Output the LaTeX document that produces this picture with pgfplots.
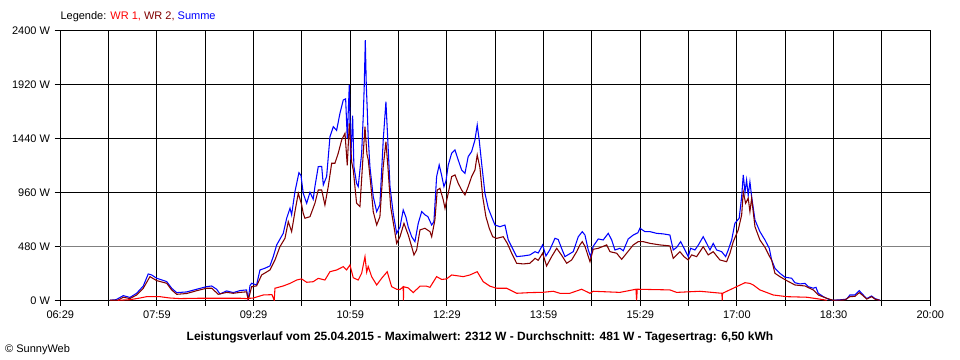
\documentclass[border=0pt]{standalone}
\usepackage{fontspec}
\setmainfont{Liberation Sans}
\usepackage{pgfplots}
\usepackage{pgfplotstable}
\pgfplotsset{compat=1.18}
\definecolor{wrA}{RGB}{255,0,0}
\definecolor{wrB}{RGB}{128,0,0}
\definecolor{sumC}{RGB}{0,0,255}
\definecolor{gridgray}{RGB}{128,128,128}

\pgfplotstableread{
t w
436.3 0
441.9 5
448.7 41
454.9 25
461.1 62
467.3 127
471.9 234
475.1 225
479.7 196
489.1 166
493.7 107
498.4 68
507.7 74
517.0 98
526.3 121
531.0 127
535.6 98
538.7 56
544.9 83
551.1 68
557.3 86
563.5 92
565.0 0
566.6 130
568.2 151
572.8 136
575.9 269
580.6 285
585.2 305
588.3 388
591.5 492
597.6 595
600.8 729
603.9 818
605.4 760
608.5 965
612.2 1134
614.1 1110
616.2 951
619.4 862
622.5 960
625.5 898
627.1 1010
630.2 1188
633.4 1190
634.9 1025
638.0 1100
641.1 1454
644.2 1543
647.3 1510
650.4 1662
653.5 1780
655.7 1790
657.2 1440
659.1 1914
660.4 1250
662.2 1640
663.4 1188
665.9 1040
667.4 1010
670.6 1307
672.1 1640
673.0 1900
674.0 2312
674.9 1920
675.8 1700
676.7 1450
678.3 1188
681.4 921
684.6 788
687.6 850
690.7 1425
693.2 1765
694.4 1530
697.0 1010
700.0 773
703.2 595
706.3 650
709.3 803
711.8 740
714.0 650
717.2 565
720.2 521
723.3 684
726.5 788
729.5 760
732.3 743
735.8 669
737.9 700
740.4 1099
742.8 1203
745.1 1110
747.2 1010
749.1 1060
751.2 1200
754.4 1307
757.5 1336
760.5 1247
763.7 1158
766.8 1129
769.8 1277
773.0 1322
776.1 1425
778.2 1558
780.1 1420
782.3 1218
785.4 951
788.5 818
791.6 743
794.7 669
799.4 654
804.0 669
807.1 536
810.3 476
814.9 388
821.1 394
827.3 403
832.0 432
835.0 420
839.1 492
842.2 394
845.9 450
850.6 551
853.6 540
856.8 460
859.9 388
867.6 432
872.3 565
876.0 610
878.5 580
881.6 447
883.8 388
886.2 480
890.9 545
895.5 536
900.2 595
903.4 536
906.4 447
911.1 462
914.2 440
918.8 545
923.5 580
927.8 600
929.7 640
934.4 610
939.0 610
945.2 595
951.4 590
957.6 580
960.7 447
963.9 470
967.6 521
971.6 447
974.7 388
976.9 462
980.9 447
984.0 490
988.6 565
991.8 506
994.9 447
997.9 506
1001.1 447
1005.8 432
1009.5 388
1011.9 447
1015.1 536
1018.1 684
1022.1 729
1024.4 921
1025.9 1114
1027.5 960
1029.0 1069
1030.5 930
1032.1 1054
1033.7 920
1036.8 714
1041.4 610
1046.1 536
1050.1 462
1052.3 358
1055.4 284
1060.0 240
1064.7 205
1070.9 196
1074.0 156
1078.7 145
1083.3 150
1086.4 121
1091.0 107
1093.6 115
1095.7 62
1100.4 32
1105.0 10
1109.4 0
1117.5 5
1122.1 10
1125.2 47
1129.9 47
1133.9 85
1137.6 47
1140.8 15
1145.4 38
1148.5 15
1153.1 0
}\summe

\pgfplotstableread{
t w
436.3 0
443.7 0
448.7 27
454.9 15
461.1 47
467.3 107
473.5 210
479.7 175
489.1 151
493.7 92
498.4 53
507.7 60
517.0 85
526.3 107
531.0 107
537.1 53
544.9 70
551.1 62
557.3 70
563.5 75
565.0 0
568.2 121
572.8 128
577.5 225
585.2 269
589.9 358
594.5 476
599.2 551
602.3 699
605.4 610
608.5 788
611.6 951
614.7 850
616.2 773
617.8 729
622.5 743
627.1 862
630.2 980
633.4 980
636.4 847
639.5 1010
642.7 1218
645.7 1218
648.8 1307
652.0 1425
655.1 1484
657.2 1200
659.1 1573
661.3 1230
662.8 1158
665.9 862
669.0 832
671.5 1218
673.7 1543
675.5 1300
676.7 1250
679.0 1040
681.4 788
684.6 669
687.6 743
690.7 1188
693.2 1410
695.1 1180
697.6 832
700.7 654
703.2 506
706.3 565
710.0 684
714.0 580
717.2 476
719.3 403
721.8 447
724.9 625
729.5 640
734.2 610
735.8 565
738.8 714
741.0 980
743.5 995
746.6 891
748.2 818
751.2 951
754.4 1099
757.5 1114
760.5 1040
763.7 980
766.8 936
769.8 1010
773.0 1099
776.1 1158
778.2 1292
780.7 1180
783.3 921
786.3 743
789.4 640
792.6 565
796.3 550
802.4 565
806.2 506
810.3 418
814.9 329
821.1 323
827.3 329
832.0 373
835.0 355
839.1 418
842.8 305
847.5 388
852.2 462
856.8 400
861.5 329
866.1 358
870.8 432
873.8 492
876.0 521
878.5 480
883.2 343
886.2 453
890.9 462
898.7 492
901.8 432
908.0 418
912.7 364
917.3 418
923.5 492
928.1 521
932.8 521
939.0 506
948.3 492
957.6 483
960.7 373
966.9 432
970.7 388
974.7 358
977.8 403
982.5 388
988.6 476
993.3 403
997.9 432
1004.2 358
1010.4 343
1013.5 418
1016.6 521
1021.2 625
1024.4 758
1025.9 965
1028.1 862
1030.5 907
1032.1 788
1033.7 907
1036.8 654
1041.4 536
1046.1 471
1050.1 394
1052.3 358
1055.4 240
1060.0 210
1066.3 175
1074.0 136
1083.3 127
1091.0 92
1095.7 47
1103.5 18
1109.4 0
1120.6 3
1125.2 32
1129.9 35
1133.9 68
1137.6 40
1140.8 10
1145.4 32
1148.5 10
1153.1 0
}\wrzwei

\pgfplotstableread{
t w
443.7 0
454.9 5
464.2 20
470.4 32
482.8 32
492.1 20
501.4 15
520.1 18
557.3 18
563.5 15
569.7 20
579.0 47
587.1 50
589.2 0
589.9 107
597.6 127
603.9 150
610.1 180
614.7 190
619.4 160
625.5 165
630.2 195
636.4 180
641.1 254
647.3 269
653.5 299
656.6 270
659.7 314
662.8 200
667.4 180
670.6 240
673.7 388
675.3 250
676.7 300
679.9 210
684.6 136
689.2 195
694.4 254
698.5 121
703.2 98
706.3 95
709.3 120
709.5 0
709.7 120
714.0 110
718.6 68
724.9 125
731.1 125
734.2 115
740.4 210
745.1 185
749.7 190
754.4 225
765.2 210
771.4 225
778.2 254
783.8 165
790.1 125
796.3 107
805.6 107
814.9 62
827.3 68
839.7 71
849.0 80
855.2 62
864.5 62
875.4 98
883.2 62
886.2 80
911.1 70
926.0 98
926.6 0
927.2 98
957.6 92
963.9 70
985.6 80
1006.0 62
1006.3 0
1006.6 62
1016.6 107
1027.5 156
1032.1 150
1035.2 136
1041.4 92
1053.8 47
1066.3 32
1084.9 27
1097.3 10
1103.5 0
}\wreins

\begin{document}
\begin{tikzpicture}
\path[use as bounding box] (-45.2pt,-44.8pt) rectangle (674.8pt,225.2pt);
\begin{axis}[
  scale only axis, width=652.5pt, height=202.5pt,
  xmin=390, xmax=1200, ymin=0, ymax=2400,
  xtick={390,435,...,1200},
  xticklabels={06:29,,07:59,,09:29,,10:59,,12:29,,13:59,,15:29,,17:00,,18:30,,20:00},
  ytick={0,960,1440,1920,2400},
  yticklabels={0 W,960 W,1440 W,1920 W,2400 W},
  extra y ticks={480}, extra y tick labels={480 W},
  extra y tick style={major grid style={draw=gridgray, line width=0.75pt}},
  grid=major, major grid style={draw=black, line width=0.75pt},
  axis line style={black, line width=0.75pt},
  tick pos=left, tick align=outside, major tick length=4.2pt,
  every tick/.style={black, line width=0.75pt},
  tick label style={font=\fontsize{8.25}{10}\selectfont},
  /pgf/number format/assume math mode=true,
  axis on top=false,
]
\addplot[sumC, line width=0.8pt, mark=none] table[x=t,y=w]{\summe};
\addplot[wrB, line width=0.8pt, mark=none] table[x=t,y=w]{\wrzwei};
\addplot[wrA, line width=0.8pt, mark=none] table[x=t,y=w]{\wreins};
\end{axis}
\node[anchor=base west, inner sep=0, font=\fontsize{8.25}{10}\selectfont] at (0pt,210.2pt)
  {Legende: {\color{wrA}WR 1,} {\color{wrB}WR 2,} {\color{sumC}Summe}};
\node[anchor=base, inner sep=0, font=\bfseries\fontsize{9}{11}\selectfont] at (314.8pt,-30.5pt)
  {Leistungsverlauf vom 25.04.2015 - Maximalwert: 2312 W - Durchschnitt: 481 W - Tagesertrag: 6,50 kWh};
\node[anchor=base west, inner sep=0, font=\fontsize{8.25}{10}\selectfont] at (-41.5pt,-39.3pt)
  {© SunnyWeb};
\end{tikzpicture}
\end{document}
